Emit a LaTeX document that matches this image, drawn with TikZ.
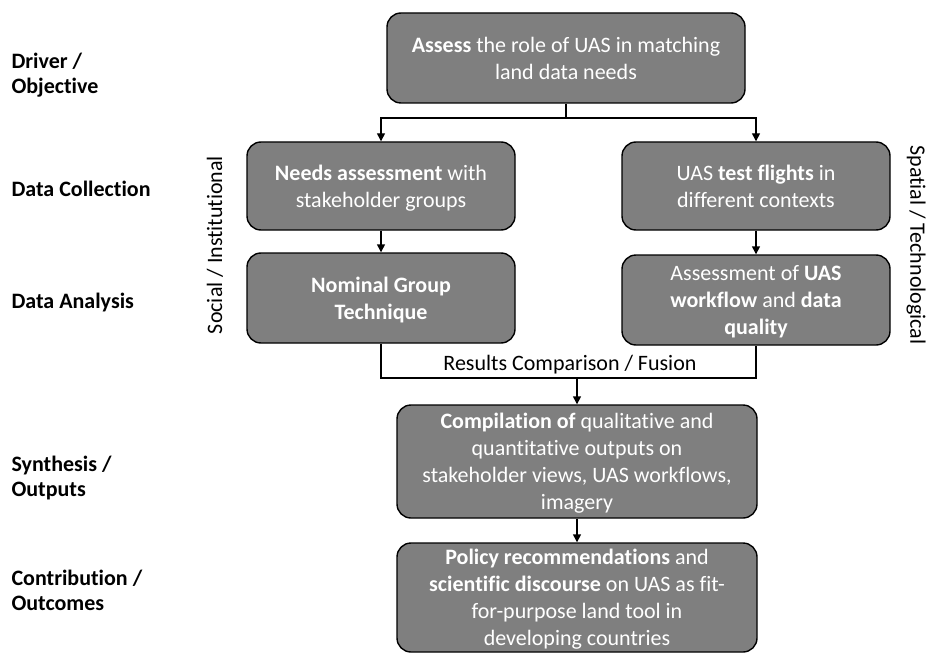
\documentclass[tikz,border=0pt]{standalone}
\usepackage{fontspec}
\setmainfont{Carlito}[RawFeature=-liga]
\usetikzlibrary{arrows.meta}
\definecolor{boxgray}{HTML}{7F7F7F}
\tikzset{
  box/.style={draw=black, line width=1.4pt, fill=boxgray, rounded corners=14pt, text=white, align=center, font=\fontsize{22}{27}\selectfont, inner sep=0pt, text depth=0pt},
  lab/.style={anchor=west, align=left, font=\fontsize{22}{25}\selectfont\bfseries, text=black},
  side/.style={font=\fontsize{22}{25}\selectfont, text=black},
  conn/.style={line width=1.4pt, draw=black},
  arr/.style={conn, -{Triangle[width=8pt,length=8pt]}},
}
\begin{document}
\begin{tikzpicture}[x=1pt,y=-1pt]
\useasboundingbox (0,0) rectangle (928,655);
% boxes
\node[box, minimum width=358pt, minimum height=90pt] (obj) at (566,58) {\textbf{Assess} the role of UAS in matching\\land data needs};
\node[box, minimum width=268pt, minimum height=88pt] (needs) at (381,186) {\textbf{Needs assessment} with\\stakeholder groups};
\node[box, minimum width=268pt, minimum height=90pt] (ngt) at (381,298) {\textbf{Nominal Group}\\\textbf{Technique}};
\node[box, minimum width=268pt, minimum height=88pt] (flights) at (756,186) {UAS \textbf{test flights} in\\different contexts};
\node[box, minimum width=268pt, minimum height=90pt] (uasq) at (756,300) {Assessment of \textbf{UAS}\\\textbf{workflow} and \textbf{data}\\\textbf{quality}};
\node[box, minimum width=360pt, minimum height=113pt] (comp) at (577,461.5) {\textbf{Compilation of} qualitative and\\quantitative outputs on\\stakeholder views, UAS workflows,\\imagery};
\node[box, minimum width=360pt, minimum height=109pt] (policy) at (577,597.5) {\textbf{Policy recommendations} and\\\textbf{scientific discourse} on UAS as fit-\\for-purpose land tool in\\developing countries};
% left labels
\node[lab] (l1) at (8,75.5) {Driver /\\Objective};
\node[lab] (l2) at (8,189) {Data Collection};
\node[lab] (l3) at (8,303) {Data Analysis};
\node[lab] (l4) at (8,478.5) {Synthesis /\\Outputs};
\node[lab] (l5) at (8,590) {Contribution /\\Outcomes};
% side labels
\node[side, rotate=90] (soc) at (215,245) {Social / Institutional};
\node[side, rotate=-90] (spa) at (916,245) {Spatial / Technological};
% connectors
\coordinate (split) at (566,118);
\draw[conn] (obj.south) -- (split);
\draw[arr] (split) -| (needs.north);
\draw[arr] (split) -| (flights.north);
\draw[arr] (needs) -- (ngt);
\draw[arr] (flights) -- (uasq);
\coordinate (merge) at (577,378);
\draw[conn] (ngt.south) |- (merge) -| (uasq.south);
\node[font=\fontsize{22}{25}\selectfont, anchor=base] (res) at (570,370) {Results Comparison / Fusion};
\draw[arr] (merge) -- (comp.north);
\draw[arr] (comp) -- (policy);
\end{tikzpicture}
\end{document}
